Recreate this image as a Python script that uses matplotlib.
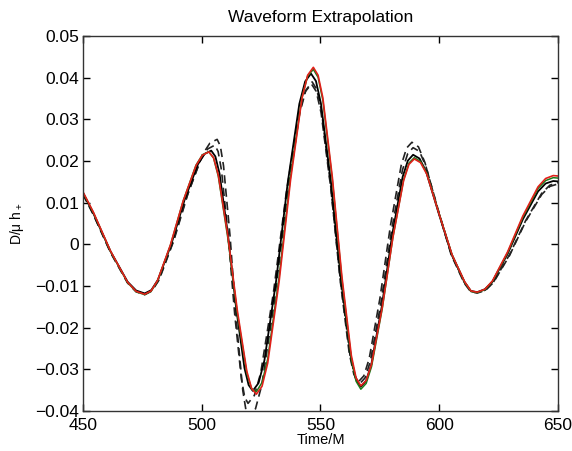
import numpy as np
import matplotlib
matplotlib.use('Agg')
import matplotlib.pyplot as plt

plt.rcParams['font.family'] = ['Liberation Sans', 'DejaVu Sans']
plt.rcParams['mathtext.fontset'] = 'custom'
plt.rcParams['mathtext.rm'] = 'Liberation Sans'
plt.rcParams['mathtext.it'] = 'Liberation Sans:italic'

# red (reference) waveform
red_t = [450, 454.4, 461.6, 468.8, 472.4, 476,
         478.7, 481.4, 486.8, 492.2, 497.6, 500.3, 503,
         505, 507, 511, 515, 519, 521, 523,
         525.4, 527.8, 532.6, 537.4, 542.2, 544.6, 547,
         549, 551, 555, 559, 563, 565, 567,
         569.25, 571.5, 576, 580.5, 585, 587.25, 589.5,
         592.15, 594.8, 600.1, 605.4, 610.7, 613.35, 616,
         619.2, 622.4, 628.8, 635.2, 641.6, 644.8, 648, 650]
red_h = [0.0126, 0.0077, -0.0016, -0.0091, -0.0113, -0.0120,
         -0.0112, -0.0087, -0.0002, 0.0104, 0.0189, 0.0214, 0.0222,
         0.0208, 0.0166, 0.0021, -0.0159, -0.0305, -0.0346, -0.0360,
         -0.0341, -0.0285, -0.0089, 0.0154, 0.0350, 0.0406, 0.0425,
         0.0406, 0.0352, 0.0161, -0.0076, -0.0267, -0.0321, -0.0340,
         -0.0327, -0.0288, -0.0152, 0.0017, 0.0153, 0.0192, 0.0205,
         0.0196, 0.0168, 0.0070, -0.0025, -0.0090, -0.0112, -0.0115,
         -0.0108, -0.0088, -0.0018, 0.0068, 0.0138, 0.0158, 0.0165, 0.0164]

green_t = red_t
green_h = [0.0125, 0.0076, -0.0017, -0.0092, -0.0114, -0.0121,
           -0.0113, -0.0088, -0.0003, 0.0104, 0.0190, 0.0215, 0.0222,
           0.0207, 0.0163, 0.0015, -0.0166, -0.0310, -0.0347, -0.0354,
           -0.0332, -0.0275, -0.0078, 0.0163, 0.0352, 0.0404, 0.0420,
           0.0401, 0.0346, 0.0155, -0.0083, -0.0275, -0.0329, -0.0348,
           -0.0334, -0.0294, -0.0155, 0.0017, 0.0155, 0.0195, 0.0208,
           0.0199, 0.0170, 0.0071, -0.0025, -0.0091, -0.0113, -0.0116,
           -0.0109, -0.0089, -0.0020, 0.0065, 0.0134, 0.0153, 0.0160, 0.0159]

black_t = [450, 454.4, 461.6, 468.8, 472.4, 476,
           478.8, 481.6, 487.2, 492.8, 498.4, 501.2, 504,
           505.75, 507.5, 511, 514.5, 518, 519.75, 521.5,
           523.95, 526.4, 531.3, 536.2, 541.1, 543.55, 546,
           548.1, 550.2, 554.4, 558.6, 562.8, 564.9, 567,
           569.2, 571.4, 575.8, 580.2, 584.6, 586.8, 589,
           591.7, 594.4, 599.8, 605.2, 610.6, 613.3, 616,
           619.2, 622.4, 628.8, 635.2, 641.6, 644.8, 648, 650]
black_h = [0.0123, 0.0074, -0.0017, -0.0090, -0.0111, -0.0118,
           -0.0110, -0.0085, 0.0000, 0.0107, 0.0192, 0.0217, 0.0225,
           0.0211, 0.0170, 0.0026, -0.0153, -0.0297, -0.0338, -0.0352,
           -0.0333, -0.0279, -0.0089, 0.0147, 0.0337, 0.0391, 0.0410,
           0.0392, 0.0338, 0.0150, -0.0082, -0.0270, -0.0324, -0.0342,
           -0.0328, -0.0289, -0.0150, 0.0023, 0.0162, 0.0201, 0.0215,
           0.0206, 0.0176, 0.0074, -0.0024, -0.0090, -0.0112, -0.0115,
           -0.0108, -0.0090, -0.0023, 0.0060, 0.0127, 0.0146, 0.0152, 0.0151]

dashA_t = [450, 454.4, 461.6, 468.8, 472.4, 476,
           479.05, 482.1, 488.2, 494.3, 500.4, 503.45, 506.5,
           507.85, 509.2, 511.9, 514.6, 517.3, 518.65, 520,
           522.65, 525.3, 530.6, 535.9, 541.2, 543.85, 546.5,
           548.45, 550.4, 554.3, 558.2, 562.1, 564.05, 566,
           568.25, 570.5, 575, 579.5, 584, 586.25, 588.5,
           591.25, 594, 599.5, 605, 610.5, 613.25, 616,
           619.4, 622.8, 629.6, 636.4, 643.2, 646.6, 650]
dashA_h = [0.0120, 0.0071, -0.0020, -0.0093, -0.0114, -0.0121,
           -0.0112, -0.0085, 0.0008, 0.0123, 0.0216, 0.0243, 0.0252,
           0.0236, 0.0188, 0.0022, -0.0185, -0.0351, -0.0399, -0.0415,
           -0.0395, -0.0338, -0.0137, 0.0112, 0.0313, 0.0370, 0.0390,
           0.0372, 0.0321, 0.0141, -0.0081, -0.0261, -0.0312, -0.0330,
           -0.0316, -0.0275, -0.0131, 0.0046, 0.0190, 0.0231, 0.0245,
           0.0234, 0.0196, 0.0082, -0.0025, -0.0093, -0.0114, -0.0117,
           -0.0111, -0.0092, -0.0027, 0.0055, 0.0120, 0.0139, 0.0145]

dashB_t = [450, 454.4, 461.6, 468.8, 472.4, 476,
           478.95, 481.9, 487.8, 493.7, 499.6, 502.55, 505.5,
           506.9, 508.3, 511.1, 513.9, 516.7, 518.1, 519.5,
           522.17, 524.84, 530.18, 535.52, 540.86, 543.53, 546.2,
           548.23, 550.26, 554.32, 558.38, 562.44, 564.47, 566.5,
           568.75, 571, 575.5, 580, 584.5, 586.75, 589,
           591.7, 594.4, 599.8, 605.2, 610.6, 613.3, 616,
           619.4, 622.8, 629.6, 636.4, 643.2, 646.6, 650]
dashB_h = [0.0121, 0.0072, -0.0018, -0.0092, -0.0113, -0.0120,
           -0.0111, -0.0086, 0.0004, 0.0114, 0.0204, 0.0229, 0.0238,
           0.0223, 0.0179, 0.0024, -0.0168, -0.0323, -0.0367, -0.0382,
           -0.0363, -0.0309, -0.0117, 0.0120, 0.0312, 0.0366, 0.0385,
           0.0367, 0.0316, 0.0136, -0.0086, -0.0266, -0.0317, -0.0335,
           -0.0321, -0.0281, -0.0139, 0.0036, 0.0178, 0.0218, 0.0232,
           0.0223, 0.0187, 0.0078, -0.0025, -0.0092, -0.0113, -0.0116,
           -0.0110, -0.0091, -0.0025, 0.0057, 0.0123, 0.0142, 0.0148]

xticks = [450, 500, 550, 600, 650]
yticks = [-0.04, -0.03, -0.02, -0.01, 0, 0.01, 0.02, 0.03, 0.04, 0.05]
ytick_labels = ['\u22120.04', '\u22120.03', '\u22120.02', '\u22120.01', '0',
                '0.01', '0.02', '0.03', '0.04', '0.05']

fig = plt.figure(figsize=(5.72, 4.51), dpi=100)
ax = fig.add_axes([0.145, 0.089, 0.8305, 0.831])

ax.plot(dashA_t, dashA_h, color='#222222', ls=(0, (5, 3)), lw=1.2)
ax.plot(dashB_t, dashB_h, color='#222222', ls=(0, (5, 3)), lw=1.2)
ax.plot(black_t, black_h, color='black', lw=1.3)
ax.plot(green_t, green_h, color='#1a7a1a', lw=1.1)
ax.plot(red_t, red_h, color='#e0201a', lw=1.2)

ax.set_xlim(450, 650)
ax.set_ylim(-0.04, 0.05)
ax.set_xticks(xticks)
ax.set_xticklabels([str(v) for v in xticks])
ax.set_yticks(yticks)
ax.set_yticklabels(ytick_labels)
ax.tick_params(direction='in', top=True, right=True, length=5, width=1, labelsize=12.5)
ax.tick_params(axis='x', pad=5)
ax.tick_params(axis='y', pad=3)
for s in ax.spines.values():
    s.set_linewidth(1.0)
    s.set_color('#333333')

ax.set_title('Waveform Extrapolation', fontsize=12.5, pad=10)
ax.set_xlabel('Time/M', fontsize=10.5, labelpad=0)
ax.set_ylabel(r'D/μ h$_+$', fontsize=10, labelpad=6)

fig.savefig('out.png', dpi=100)
